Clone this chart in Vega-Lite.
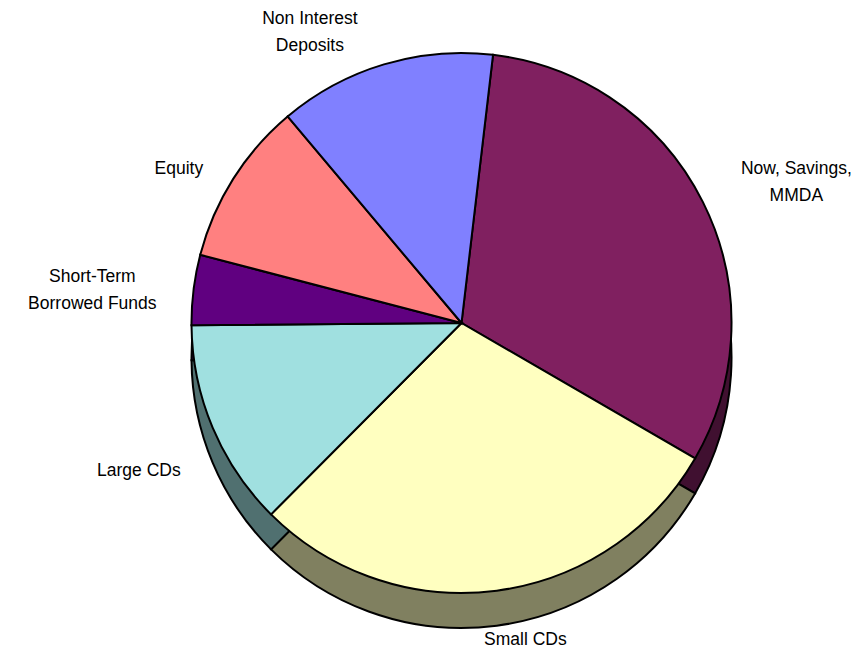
{
  "$schema": "https://vega.github.io/schema/vega-lite/v6.json",
  "width": 862,
  "height": 652,
  "autosize": {"type": "fit", "contains": "padding"},
  "padding": {"left": 58, "right": 0, "top": 0, "bottom": 6},
  "background": "white",
  "view": {"stroke": null},
  "data": {
    "values": [
      {"Category": "Now, Savings,\nMMDA", "Share": 31.5, "Rank": 1},
      {"Category": "Small CDs", "Share": 29.1, "Rank": 2},
      {"Category": "Large CDs", "Share": 12.4, "Rank": 3},
      {"Category": "Short-Term\nBorrowed Funds", "Share": 4.2, "Rank": 4},
      {"Category": "Equity", "Share": 9.8, "Rank": 5},
      {"Category": "Non Interest\nDeposits", "Share": 13.0, "Rank": 6}
    ]
  },
  "layer": [
    {
      "mark": {"type": "arc", "outerRadius": 270, "yOffset": 35, "stroke": "black", "strokeWidth": 2},
      "encoding": {
        "theta": {"field": "Share", "type": "quantitative", "stack": true, "scale": {"range": [0.117, 6.4002]}},
        "order": {"field": "Rank", "type": "quantitative"},
        "color": {
          "field": "Category", "type": "nominal", "legend": null,
          "scale": {
            "domain": ["Now, Savings,\nMMDA", "Small CDs", "Large CDs", "Short-Term\nBorrowed Funds", "Equity", "Non Interest\nDeposits"],
            "range": ["#401030", "#808060", "#507070", "#300040", "#804040", "#404080"]
          }
        }
      }
    },
    {
      "mark": {"type": "arc", "outerRadius": 270, "stroke": "black", "strokeWidth": 2},
      "encoding": {
        "theta": {"field": "Share", "type": "quantitative", "stack": true, "scale": {"range": [0.117, 6.4002]}},
        "order": {"field": "Rank", "type": "quantitative"},
        "color": {
          "field": "Category", "type": "nominal", "legend": null,
          "scale": {
            "domain": ["Now, Savings,\nMMDA", "Small CDs", "Large CDs", "Short-Term\nBorrowed Funds", "Equity", "Non Interest\nDeposits"],
            "range": ["#802060", "#FFFFC0", "#A0E0E0", "#600080", "#FF8080", "#8080FF"]
          }
        }
      }
    },
    {
      "mark": {
        "type": "text",
        "font": "Liberation Sans",
        "fontSize": 17.5,
        "lineBreak": "\n",
        "lineHeight": 27,
        "align": "center",
        "baseline": "middle",
        "color": "black",
        "radius": {"expr": "datum.Rank == 1 ? 370 : datum.Rank == 2 ? 320 : datum.Rank == 3 ? 350 : datum.Rank == 4 ? 372 : datum.Rank == 5 ? 320 : 305"},
        "dx": {"expr": "datum.Rank == 6 ? -64 : datum.Rank == 5 ? -12 : datum.Rank == 2 ? 22 : datum.Rank == 1 ? 4 : 0"},
        "dy": {"expr": "datum.Rank == 6 ? -12 : datum.Rank == 5 ? 17 : datum.Rank == 3 ? 12 : datum.Rank == 1 ? 12 : 0"}
      },
      "encoding": {
        "theta": {"field": "Share", "type": "quantitative", "stack": true, "scale": {"range": [0.117, 6.4002]}},
        "order": {"field": "Rank", "type": "quantitative"},
        "text": {"field": "Category", "type": "nominal"}
      }
    }
  ],
  "resolve": {"scale": {"color": "independent"}}
}
